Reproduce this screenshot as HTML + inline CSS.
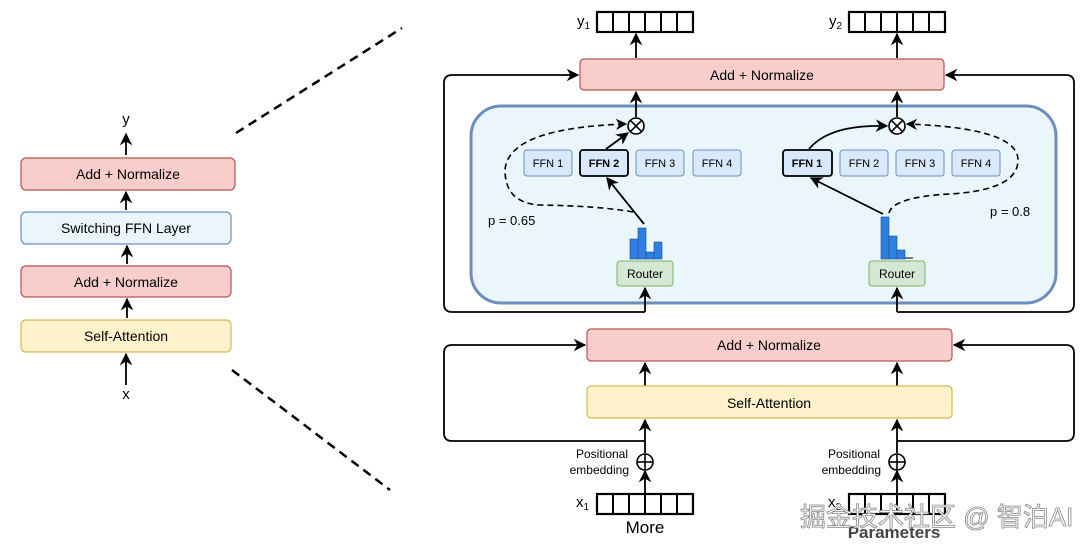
<!DOCTYPE html>
<html><head><meta charset="utf-8"><style>
html,body{margin:0;padding:0;background:#fff;}
svg{display:block;font-family:"Liberation Sans",Arial,sans-serif;}
</style></head><body>
<svg width="1080" height="546" viewBox="0 0 1080 546" xmlns="http://www.w3.org/2000/svg">
<defs>
<marker id="a" viewBox="0 0 10 10" refX="9" refY="5" markerWidth="7" markerHeight="7" orient="auto-start-reverse"><path d="M0,0 L10,5 L0,10 L3,5 z" fill="#000"/></marker>
</defs>
<g stroke="#000" stroke-width="2.5" stroke-dasharray="9,6" fill="none">
<line x1="236" y1="133" x2="402" y2="28"/>
<line x1="232" y1="370" x2="390" y2="490"/>
</g>
<g font-size="14" text-anchor="middle" fill="#000">
<rect x="21" y="158" width="214" height="32" rx="5" fill="#f8cecc" stroke="#b85450" stroke-width="1.2"/>
<text x="128" y="179">Add + Normalize</text>
<rect x="21" y="212" width="210" height="32" rx="5" fill="#eaf6fc" stroke="#6c8ebf" stroke-width="1.2"/>
<text x="126" y="233">Switching FFN Layer</text>
<rect x="21" y="266" width="210" height="31" rx="5" fill="#f8cecc" stroke="#b85450" stroke-width="1.2"/>
<text x="126" y="287">Add + Normalize</text>
<rect x="21" y="320" width="210" height="32" rx="5" fill="#fff2cc" stroke="#d6b656" stroke-width="1.2"/>
<text x="126" y="341">Self-Attention</text>
<text x="126" y="124" font-size="15">y</text>
<text x="126" y="399" font-size="15">x</text>
</g>
<g stroke="#000" stroke-width="1.8" marker-end="url(#a)">
<line x1="126" y1="155" x2="126" y2="134"/>
<line x1="126" y1="210" x2="126" y2="192"/>
<line x1="127" y1="264" x2="127" y2="246"/>
<line x1="127" y1="318" x2="127" y2="299"/>
<line x1="126" y1="385" x2="126" y2="354"/>
</g>
<g stroke="#000" stroke-width="1.8" fill="none">
<path d="M645,312 H452 Q444,312 444,304 V83 Q444,75 452,75 H578" marker-end="url(#a)"/>
<path d="M897,312 H1066 Q1074,312 1074,304 V83 Q1074,75 1066,75 H946" marker-end="url(#a)"/>
<path d="M645,441 H452 Q444,441 444,433 V353 Q444,345 452,345 H585" marker-end="url(#a)"/>
<path d="M897,441 H1066 Q1074,441 1074,433 V353 Q1074,345 1066,345 H954" marker-end="url(#a)"/>
</g>
<rect x="471" y="106" width="585" height="197" rx="30" fill="#eaf6fb" stroke="#6c8ebf" stroke-width="3"/>
<rect x="580" y="59" width="364" height="31" rx="4" fill="#f8cecc" stroke="#b85450" stroke-width="1.2"/>
<text x="762" y="80" font-size="14" text-anchor="middle">Add + Normalize</text>
<g stroke="#000" stroke-width="2.2" fill="#fff">
<rect x="597" y="12" width="96" height="20"/><rect x="849" y="12" width="96" height="20"/>
</g>
<g stroke="#000" stroke-width="2">
<line x1="613" y1="12" x2="613" y2="32"/><line x1="629" y1="12" x2="629" y2="32"/><line x1="645" y1="12" x2="645" y2="32"/><line x1="661" y1="12" x2="661" y2="32"/><line x1="677" y1="12" x2="677" y2="32"/>
<line x1="865" y1="12" x2="865" y2="32"/><line x1="881" y1="12" x2="881" y2="32"/><line x1="897" y1="12" x2="897" y2="32"/><line x1="913" y1="12" x2="913" y2="32"/><line x1="929" y1="12" x2="929" y2="32"/>
</g>
<text x="577" y="26" font-size="15">y<tspan font-size="10" dy="3">1</tspan></text>
<text x="829" y="26" font-size="15">y<tspan font-size="10" dy="3">2</tspan></text>
<g stroke="#000" stroke-width="1.8" marker-end="url(#a)">
<line x1="636" y1="58" x2="636" y2="34"/>
<line x1="897" y1="58" x2="897" y2="34"/>
<line x1="636" y1="117" x2="636" y2="92"/>
<line x1="897" y1="117" x2="897" y2="92"/>
<line x1="645" y1="312" x2="645" y2="288"/>
<line x1="897" y1="312" x2="897" y2="288"/>
<line x1="645" y1="386" x2="645" y2="363"/>
<line x1="897" y1="386" x2="897" y2="363"/>
<line x1="645" y1="453" x2="645" y2="420"/>
<line x1="897" y1="453" x2="897" y2="420"/>
<line x1="645" y1="494" x2="645" y2="471"/>
<line x1="897" y1="494" x2="897" y2="471"/>
</g>
<g stroke="#000" stroke-width="1.6" fill="#fff">
<circle cx="636" cy="126" r="8"/><circle cx="897" cy="126" r="8"/>
<circle cx="645" cy="462" r="8"/><circle cx="897" cy="462" r="8"/>
</g>
<g stroke="#000" stroke-width="1.6">
<line x1="630.3" y1="120.3" x2="641.7" y2="131.7"/><line x1="641.7" y1="120.3" x2="630.3" y2="131.7"/>
<line x1="891.3" y1="120.3" x2="902.7" y2="131.7"/><line x1="902.7" y1="120.3" x2="891.3" y2="131.7"/>
<line x1="637" y1="462" x2="653" y2="462"/><line x1="645" y1="454" x2="645" y2="470"/>
<line x1="889" y1="462" x2="905" y2="462"/><line x1="897" y1="454" x2="897" y2="470"/>
</g>
<g font-size="11" text-anchor="middle">
<rect x="524" y="150" width="48" height="26" rx="3" fill="#dae8fc" stroke="#6c8ebf"/><text x="548" y="167">FFN 1</text>
<rect x="580" y="150" width="48" height="26" rx="3" fill="#dae8fc" stroke="#000" stroke-width="1.8"/><text x="604" y="167" font-weight="bold">FFN 2</text>
<rect x="636" y="150" width="48" height="26" rx="3" fill="#dae8fc" stroke="#6c8ebf"/><text x="660" y="167">FFN 3</text>
<rect x="693" y="150" width="48" height="26" rx="3" fill="#dae8fc" stroke="#6c8ebf"/><text x="717" y="167">FFN 4</text>
<rect x="783" y="150" width="49" height="26" rx="3" fill="#dae8fc" stroke="#000" stroke-width="1.8"/><text x="807" y="167" font-weight="bold">FFN 1</text>
<rect x="840" y="150" width="48" height="26" rx="3" fill="#dae8fc" stroke="#6c8ebf"/><text x="864" y="167">FFN 2</text>
<rect x="896" y="150" width="48" height="26" rx="3" fill="#dae8fc" stroke="#6c8ebf"/><text x="920" y="167">FFN 3</text>
<rect x="952" y="150" width="48" height="26" rx="3" fill="#dae8fc" stroke="#6c8ebf"/><text x="976" y="167">FFN 4</text>
</g>
<g font-size="12" text-anchor="middle">
<rect x="617" y="261" width="56" height="25" rx="3" fill="#d5e8d4" stroke="#82b366"/><text x="645" y="278">Router</text>
<rect x="869" y="261" width="56" height="25" rx="3" fill="#d5e8d4" stroke="#82b366"/><text x="897" y="278">Router</text>
</g>
<g fill="#2f7fe0" stroke="#1a4f9a" stroke-width="0.6">
<rect x="630" y="239" width="8" height="20"/><rect x="638" y="228" width="8" height="31"/><rect x="646" y="252" width="8" height="7"/><rect x="654" y="242" width="8" height="17"/>
<rect x="881" y="217" width="8" height="42"/><rect x="889" y="236" width="8" height="23"/><rect x="897" y="250" width="8" height="9"/>
</g>
<line x1="905" y1="258" x2="913" y2="258" stroke="#000" stroke-width="1"/>
<g stroke="#000" stroke-width="1.8" fill="none" marker-end="url(#a)">
<path d="M644,224 L607,178"/>
<path d="M606,149 L628,133"/>
<path d="M883,214 L811,178"/>
<path d="M809,149 Q830,124 887,126"/>
</g>
<g stroke="#000" stroke-width="1.6" fill="none" stroke-dasharray="6,4" marker-end="url(#a)">
<path d="M633,212 Q600,206 540,205 Q505,203 505,170 Q508,128 626,124"/>
<path d="M889,213 Q893,197 950,194 Q1018,190 1018,160 Q1018,128 907,124"/>
</g>
<text x="488" y="225" font-size="13">p = 0.65</text>
<text x="990" y="216" font-size="13">p = 0.8</text>
<rect x="587" y="329" width="365" height="32" rx="4" fill="#f8cecc" stroke="#b85450" stroke-width="1.2"/>
<text x="769" y="350" font-size="14" text-anchor="middle">Add + Normalize</text>
<rect x="587" y="386" width="365" height="32" rx="4" fill="#fff2cc" stroke="#d6b656" stroke-width="1.2"/>
<text x="769" y="408" font-size="14" text-anchor="middle">Self-Attention</text>
<g font-size="12" text-anchor="end">
<text x="628" y="458">Positional</text><text x="629" y="474">embedding</text>
<text x="880" y="458">Positional</text><text x="881" y="474">embedding</text>
</g>
<g stroke="#000" stroke-width="2.2" fill="#fff">
<rect x="597" y="494" width="96" height="20"/><rect x="849" y="494" width="96" height="20"/>
</g>
<g stroke="#000" stroke-width="2">
<line x1="613" y1="494" x2="613" y2="514"/><line x1="629" y1="494" x2="629" y2="514"/><line x1="645" y1="494" x2="645" y2="514"/><line x1="661" y1="494" x2="661" y2="514"/><line x1="677" y1="494" x2="677" y2="514"/>
<line x1="865" y1="494" x2="865" y2="514"/><line x1="881" y1="494" x2="881" y2="514"/><line x1="897" y1="494" x2="897" y2="514"/><line x1="913" y1="494" x2="913" y2="514"/><line x1="929" y1="494" x2="929" y2="514"/>
</g>
<text x="576" y="507" font-size="15">x<tspan font-size="10" dy="3">1</tspan></text>
<text x="828" y="507" font-size="15">x<tspan font-size="10" dy="3">2</tspan></text>
<text x="645" y="533" font-size="17" text-anchor="middle">More</text>
<text x="894" y="538" font-size="17" font-weight="bold" text-anchor="middle" fill="#444">Parameters</text>
<text x="800" y="526" font-size="26" fill="#fff" stroke="#888" stroke-width="0.8" style='font-family:"Liberation Sans","Noto Sans CJK SC",sans-serif'>掘金技术社区 @ 智泊AI</text>
</svg>
</body></html>
